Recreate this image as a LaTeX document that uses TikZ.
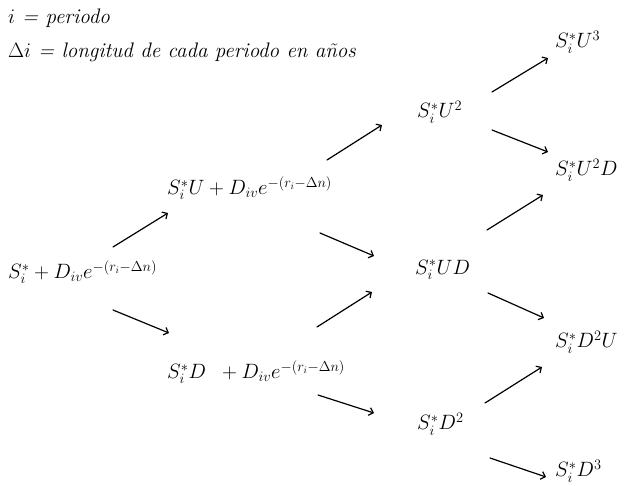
\documentclass[tikz,border=0pt]{standalone}
\usepackage{amsmath}
\usepackage{tikz}
\usetikzlibrary{arrows.meta}

\tikzset{
  note/.style={anchor=west, inner sep=0pt, font=\fontsize{21}{25}\selectfont\itshape},
  lbl/.style={anchor=west, inner sep=0pt, font=\fontsize{20}{24}\selectfont},
  arr/.style={-{Straight Barb[length=4pt,width=8pt]}, line width=1.2pt, line cap=round}
}

\begin{document}
\begin{tikzpicture}[x=1pt, y=-1pt]
      \useasboundingbox (0,0) rectangle (630,486);

      % legend
      \node[note] (per) at (8,18) {$i$ = periodo};
      \node[note] (lon) at (8,52) {$\Delta i$ = longitud de cada periodo en a\~nos};

      % tree nodes
      \node[lbl] (root) at (8,272) {$S_i^{*} + D_{iv}e^{-(r_i-\Delta n)}$};
      \node[lbl] (up) at (167,188) {$S_i^{*}U + D_{iv}e^{-(r_i-\Delta n)}$};
      \node[lbl] (down) at (167,372) {$S_i^{*}D\;\; + D_{iv}e^{-(r_i-\Delta n)}$};

      \node[lbl] (uu) at (417,112) {$S_i^{*}U^2$};
      \node[lbl] (ud) at (415,270) {$S_i^{*}UD$};
      \node[lbl] (dd) at (417,424) {$S_i^{*}D^2$};

      \node[lbl] (uuu) at (555,42) {$S_i^{*}U^3$};
      \node[lbl] (uud) at (555,170) {$S_i^{*}U^2D$};
      \node[lbl] (ddu) at (555,342) {$S_i^{*}D^2U$};
      \node[lbl] (ddd) at (555,471) {$S_i^{*}D^3$};

      % branches
      \draw[arr] ([shift={(105,-25)}]root.west) -- ([shift={(1,25)}]up.west);
      \draw[arr] ([shift={(105,38)}]root.west) -- ([shift={(2,-39)}]down.west);

      \draw[arr] ([shift={(160,-28)}]up.west) -- ([shift={(-35,13)}]uu.west);
      \draw[arr] ([shift={(153,45)}]up.west) -- ([shift={(-41,-14)}]ud.west);
      \draw[arr] ([shift={(150,-45)}]down.west) -- ([shift={(-43,22)}]ud.west);
      \draw[arr] ([shift={(151,23)}]down.west) -- ([shift={(-43,-11)}]dd.west);

      \draw[arr] ([shift={(75,-20)}]uu.west) -- ([shift={(-7,16)}]uuu.west);
      \draw[arr] ([shift={(75,18)}]uu.west) -- ([shift={(-7,-18)}]uud.west);
      \draw[arr] ([shift={(72,-40)}]ud.west) -- ([shift={(-12,25)}]uud.west);
      \draw[arr] ([shift={(73,23)}]ud.west) -- ([shift={(-11,-24)}]ddu.west);
      \draw[arr] ([shift={(68,-21)}]dd.west) -- ([shift={(-13,25)}]ddu.west);
      \draw[arr] ([shift={(73,34)}]dd.west) -- ([shift={(-9,6)}]ddd.west);
\end{tikzpicture}
\end{document}
